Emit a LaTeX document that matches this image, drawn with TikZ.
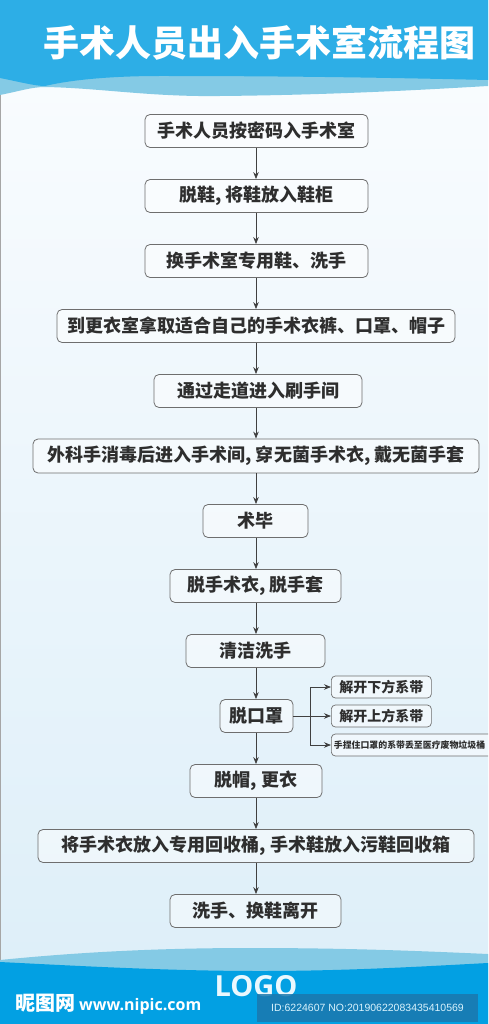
\documentclass[tikz,border=0pt]{standalone}
\usepackage{fontspec}
\setmainfont{Noto Sans CJK SC}
\newfontfamily\latinfont{Open Sans}
\newfontfamily\idfont{Liberation Sans}
\usetikzlibrary{arrows.meta}
\definecolor{headblue}{HTML}{2DAEE6}
\definecolor{wavelight}{HTML}{84CAE5}
\definecolor{footblue}{HTML}{02A0E3}
\definecolor{bgbottom}{HTML}{DCEEF8}
\definecolor{bgtop}{HTML}{FBFDFF}
\definecolor{boxline}{HTML}{6E6E6E}
\definecolor{boxtext}{HTML}{2E2E2E}
\definecolor{idbox}{HTML}{1B78AE}
\begin{document}
\begin{tikzpicture}[x=1pt,y=-1pt,
  flowbox/.style={draw=boxline, line width=0.8pt, rounded corners=5pt,
    fill=white, fill opacity=0.45, text opacity=1, text=boxtext,
    font=\bfseries\fontsize{18}{18}\selectfont, minimum height=33pt, inner sep=0pt},
  sidebox/.style={draw=boxline, line width=0.7pt, rounded corners=4pt,
    fill=white, fill opacity=0.45, text opacity=1, text=boxtext,
    font=\bfseries\fontsize{14}{14}\selectfont, minimum height=22pt, inner sep=0pt, anchor=west},
  flowarrow/.style={draw=black!75, line width=0.8pt, -{Stealth[length=7pt,width=5.5pt]}}
]
\useasboundingbox (0,0) rectangle (488,1024);
\clip (0,0) rectangle (488,1024);
% background
\shade[top color=bgtop, bottom color=bgbottom] (0,0) rectangle (488,1024);
\draw[black!35, line width=1pt] (0,90) -- (0,965);
% header
\fill[wavelight] (0,0) -- (0,95) .. controls (20,91) and (32,87) .. (45,87)
  .. controls (100,88) and (150,97) .. (220,96)
  .. controls (330,95) and (420,90) .. (488,86) -- (488,0) -- cycle;
\fill[headblue] (0,0) -- (0,78) .. controls (20,82) and (35,86) .. (45,86)
  .. controls (70,80) and (110,76) .. (160,76)
  .. controls (300,76) and (400,78) .. (488,80) -- (488,0) -- cycle;
\node[text=white, font=\bfseries\fontsize{36}{36}\selectfont] (title) at (259,43) {手术人员出入手术室流程图};
% footer
\fill[wavelight] (0,960) .. controls (80,952) and (160,948) .. (250,948)
  .. controls (350,948) and (420,951) .. (488,954) -- (488,1024) -- (0,1024) -- cycle;
\fill[footblue] (0,962) .. controls (80,966) and (170,971) .. (260,971)
  .. controls (350,971) and (430,966) .. (488,963) -- (488,1024) -- (0,1024) -- cycle;
\node[text=cyan!8, font=\latinfont\bfseries\fontsize{29}{29}\selectfont] (logo) at (256,986) {LOGO};
\node[anchor=west, text=white, inner sep=0pt] (wm) at (15,1004)
  {{\bfseries\fontsize{20}{20}\selectfont 昵图网}\hspace{4pt}{\latinfont\bfseries\fontsize{16}{16}\selectfont www.nipic.com}};
\node[fill=idbox, fill opacity=0.85, text opacity=1, text=white!85!cyan, minimum width=221pt, minimum height=28pt,
  inner sep=0pt, font=\idfont\fontsize{10.5}{10.5}\selectfont] (id) at (367.5,1008) {ID:6224607 NO:20190622083435410569};
% flow boxes
\node[flowbox, minimum width=223pt] (n1) at (256.5,131) {手术人员按密码入手术室};
\node[flowbox, minimum width=223pt] (n2) at (256.5,196) {脱鞋, 将鞋放入鞋柜};
\node[flowbox, minimum width=223pt] (n3) at (256.5,261) {换手术室专用鞋、洗手};
\node[flowbox, minimum width=398pt] (n4) at (256,326) {到更衣室拿取适合自己的手术衣裤、口罩、帽子};
\node[flowbox, minimum width=208pt] (n5) at (258,391) {通过走道进入刷手间};
\node[flowbox, minimum width=446pt, minimum height=34pt] (n6) at (256,456) {外科手消毒后进入手术间, 穿无菌手术衣, 戴无菌手套};
\node[flowbox, minimum width=105pt] (n7) at (255.5,521) {术毕};
\node[flowbox, minimum width=171pt] (n8) at (255.5,586) {脱手术衣, 脱手套};
\node[flowbox, minimum width=139pt] (n9) at (255.5,651) {清洁洗手};
\node[flowbox, minimum width=73pt] (n10) at (256.5,716) {脱口罩};
\node[flowbox, minimum width=132pt] (n11) at (256,781) {脱帽, 更衣};
\node[flowbox, minimum width=436pt] (n12) at (256,846) {将手术衣放入专用回收桶, 手术鞋放入污鞋回收箱};
\node[flowbox, minimum width=171pt] (n13) at (255.5,911) {洗手、换鞋离开};
% side boxes
\node[sidebox, minimum width=100pt] (s1) at (331,687) {解开下方系带};
\node[sidebox, minimum width=100pt] (s2) at (331,716) {解开上方系带};
\node[sidebox, minimum width=166pt, font=\bfseries\fontsize{8.9}{8.9}\selectfont, text width=166pt, align=left] (s3) at (331,745) {\hspace*{2.5pt}手捏住口罩的系带丢至医疗废物垃圾桶};
% arrows
\foreach \a/\b in {n1/n2,n2/n3,n3/n4,n4/n5,n5/n6,n6/n7,n7/n8,n8/n9,n9/n10,n10/n11,n11/n12,n12/n13}
  \draw[flowarrow] (\a.south -| 256,0) -- (\b.north -| 256,0);
\coordinate (br) at (310,716);
\draw[flowarrow] (n10.east) -- (s2.west);
\draw[flowarrow] (br) |- (s1.west);
\draw[flowarrow] (br) |- (s3.west);
\end{tikzpicture}
\end{document}
